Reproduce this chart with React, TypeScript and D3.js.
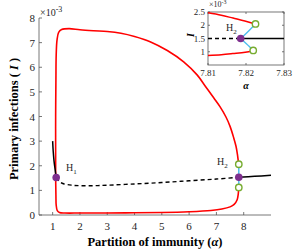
import * as d3 from 'd3';

// main panel: alpha vs I (x 1e-3)
const xTicks = [1, 2, 3, 4, 5, 6, 7, 8];
const yTicks = [0, 1, 2, 3, 4, 5, 6, 7, 8];

// stable periodic orbit (max / min), closed loop
const redCycle: [number, number][] = [
  [7.82, 1.12], [7.8, 0.85], [7.76, 0.62], [7.65, 0.43], [7.5, 0.33], [7.2, 0.24],
  [6.8, 0.18], [6.0, 0.13], [5.0, 0.1], [4.0, 0.09], [3.0, 0.08], [2.0, 0.08],
  [1.45, 0.08], [1.25, 0.1], [1.17, 0.18], [1.13, 0.4], [1.12, 0.8], [1.11, 1.5],
  [1.11, 2.5], [1.11, 4.0], [1.12, 5.5], [1.13, 6.5], [1.16, 7.1], [1.22, 7.42],
  [1.33, 7.53], [1.6, 7.57], [2.0, 7.52], [2.5, 7.48], [3.0, 7.45], [3.5, 7.38],
  [4.0, 7.25], [4.57, 7.04], [5.2, 6.68], [5.8, 6.22], [6.3, 5.68], [6.6, 5.22],
  [6.9, 4.76], [7.13, 4.4], [7.35, 3.98], [7.5, 3.6], [7.63, 3.15], [7.72, 2.78],
  [7.77, 2.46], [7.8, 2.2], [7.82, 2.06],
];
const stableLeft: [number, number][] = [[1.0, 3.0], [1.02, 2.6], [1.05, 2.2], [1.09, 1.85], [1.13, 1.52]];
const unstableEq: [number, number][] = [
  [1.13, 1.52], [1.25, 1.36], [1.4, 1.27], [1.7, 1.21], [2.0, 1.19], [2.5, 1.19],
  [3.0, 1.21], [4.0, 1.26], [5.0, 1.32], [6.0, 1.39], [7.0, 1.46], [7.82, 1.53],
];
const stableRight: [number, number][] = [[7.82, 1.53], [8.4, 1.57], [9.0, 1.61]];
const unstableCycle: [number, number][] = [[7.82, 2.06], [7.82, 1.53], [7.82, 1.12]];
const hopfPoints: [number, number][] = [[1.13, 1.52], [7.82, 1.53]];
const foldPoints: [number, number][] = [[7.82, 2.06], [7.82, 1.12]];

// inset around H2
const insetXTicks = [7.81, 7.82, 7.83];
const insetYTicks = [1, 1.5, 2, 2.5];
const insetRedUpper: [number, number][] = [[7.81, 2.47], [7.8135, 2.38], [7.8166, 2.27], [7.8197, 2.16], [7.8224, 2.05]];
const insetRedLower: [number, number][] = [[7.81, 0.86], [7.8135, 0.89], [7.8165, 0.93], [7.8198, 0.98], [7.8219, 1.05]];
const insetBlueUpper: [number, number][] = [[7.8186, 1.5], [7.8203, 1.73], [7.8225, 2.05]];
const insetBlueLower: [number, number][] = [[7.8186, 1.5], [7.8201, 1.3], [7.8219, 1.05]];
const insetDashed: [number, number][] = [[7.81, 1.5], [7.8186, 1.5]];
const insetSolid: [number, number][] = [[7.8186, 1.5], [7.83, 1.5]];
const insetHopf: [number, number] = [7.8186, 1.5];
const insetFolds: [number, number][] = [[7.8225, 2.05], [7.8219, 1.05]];

const RED = '#ff0000';
const BLUE = '#4dbeee';
const GREEN = '#77ac30';
const PURPLE = '#7e2f8e';
const AXIS = '#555';
const TXT = '#262626';
const FONT = '"Liberation Serif", "Times New Roman", serif';

export default function App() {
  const x = d3.scaleLinear().domain([0.5, 9]).range([39, 271]);
  const y = d3.scaleLinear().domain([0, 8]).range([215, 18]);
  const line = d3.line<[number, number]>().x(d => x(d[0])).y(d => y(d[1])).curve(d3.curveCatmullRom);

  const ix = d3.scaleLinear().domain([7.81, 7.83]).range([208, 284]);
  const iy = d3.scaleLinear().domain([0.5, 2.5]).range([65, 12]);
  const iline = d3.line<[number, number]>().x(d => ix(d[0])).y(d => iy(d[1])).curve(d3.curveCatmullRom);

  return (
    <svg width={300} height={250} style={{ position: 'absolute', left: 0, top: 0, background: '#fff' }} fontFamily={FONT}>
      {/* main axes */}
      <line x1={x(0.5)} x2={x(9)} y1={y(0)} y2={y(0)} stroke={AXIS} strokeWidth={0.8} />
      <line x1={x(0.5)} x2={x(0.5)} y1={y(0)} y2={y(8)} stroke={AXIS} strokeWidth={0.8} />
      {xTicks.map(t => (
        <g key={'xt' + t}>
          <line x1={x(t)} x2={x(t)} y1={y(0)} y2={y(0) - 3} stroke={AXIS} strokeWidth={0.8} />
          <text x={x(t)} y={230} fontSize={11} textAnchor="middle" fill={TXT}>{t}</text>
        </g>
      ))}
      {yTicks.map(t => (
        <g key={'yt' + t}>
          <line x1={x(0.5)} x2={x(0.5) + 3} y1={y(t)} y2={y(t)} stroke={AXIS} strokeWidth={0.8} />
          <text x={35} y={y(t) + 4} fontSize={11} textAnchor="end" fill={TXT}>{t}</text>
        </g>
      ))}
      <text x={40} y={16} fontSize={10} fill={TXT}>
        ×10<tspan dy={-4} fontSize={8}>-3</tspan>
      </text>
      <text x={155} y={246} fontSize={12.5} fontWeight="bold" textAnchor="middle" fill="#000">
        Partition of immunity (<tspan fontStyle="italic">α</tspan>)
      </text>
      <text transform="translate(18,119) rotate(-90)" fontSize={12.5} fontWeight="bold" textAnchor="middle" fill="#000">
        Primary infections ( <tspan fontStyle="italic">I</tspan> )
      </text>

      {/* main curves */}
      <path d={line(redCycle) ?? ''} fill="none" stroke={RED} strokeWidth={1.6} />
      <path d={line(unstableEq) ?? ''} fill="none" stroke="#000" strokeWidth={1.4} strokeDasharray="4,3" />
      <path d={line(stableLeft) ?? ''} fill="none" stroke="#000" strokeWidth={1.5} />
      <path d={line(stableRight) ?? ''} fill="none" stroke="#000" strokeWidth={1.5} />
      <path d={line(unstableCycle) ?? ''} fill="none" stroke={BLUE} strokeWidth={1.5} />
      {foldPoints.map((p, i) => (
        <circle key={'f' + i} cx={x(p[0])} cy={y(p[1])} r={3.2} fill="#fff" stroke={GREEN} strokeWidth={1.4} />
      ))}
      {hopfPoints.map((p, i) => (
        <circle key={'h' + i} cx={x(p[0])} cy={y(p[1])} r={3.8} fill={PURPLE} />
      ))}
      <text x={66} y={171} fontSize={10} fill={TXT}>H<tspan dy={3} fontSize={7}>1</tspan></text>
      <text x={217} y={165} fontSize={10} fill={TXT}>H<tspan dy={3} fontSize={7}>2</tspan></text>

      {/* inset */}
      <rect x={208} y={12} width={76} height={53} fill="#fff" stroke={AXIS} strokeWidth={0.8} />
      {insetXTicks.map(t => (
        <g key={'ixt' + t}>
          <line x1={ix(t)} x2={ix(t)} y1={65} y2={63} stroke={AXIS} strokeWidth={0.8} />
          <line x1={ix(t)} x2={ix(t)} y1={12} y2={14} stroke={AXIS} strokeWidth={0.8} />
          <text x={ix(t)} y={76} fontSize={9} textAnchor="middle" fill={TXT}>{t.toFixed(2)}</text>
        </g>
      ))}
      {insetYTicks.map(t => (
        <g key={'iyt' + t}>
          <line x1={208} x2={210} y1={iy(t)} y2={iy(t)} stroke={AXIS} strokeWidth={0.8} />
          <line x1={284} x2={282} y1={iy(t)} y2={iy(t)} stroke={AXIS} strokeWidth={0.8} />
          <text x={205} y={iy(t) + 3} fontSize={9} textAnchor="end" fill={TXT}>{t}</text>
        </g>
      ))}
      <text x={209} y={7} fontSize={8} fill={TXT}>
        ×10<tspan dy={-3} fontSize={6}>-3</tspan>
      </text>
      <text x={246} y={89} fontSize={10} fontWeight="bold" fontStyle="italic" textAnchor="middle" fill="#000">α</text>
      <text transform="translate(194,35) rotate(-90)" fontSize={10} fontWeight="bold" fontStyle="italic" textAnchor="middle" fill="#000">I</text>
      <path d={iline(insetRedUpper) ?? ''} fill="none" stroke={RED} strokeWidth={1.5} />
      <path d={iline(insetRedLower) ?? ''} fill="none" stroke={RED} strokeWidth={1.5} />
      <path d={iline(insetDashed) ?? ''} fill="none" stroke="#000" strokeWidth={1.4} strokeDasharray="4,3" />
      <path d={iline(insetSolid) ?? ''} fill="none" stroke="#000" strokeWidth={1.4} />
      <path d={iline(insetBlueUpper) ?? ''} fill="none" stroke={BLUE} strokeWidth={1.4} />
      <path d={iline(insetBlueLower) ?? ''} fill="none" stroke={BLUE} strokeWidth={1.4} />
      {insetFolds.map((p, i) => (
        <circle key={'if' + i} cx={ix(p[0])} cy={iy(p[1])} r={3.2} fill="#fff" stroke={GREEN} strokeWidth={1.4} />
      ))}
      <circle cx={ix(insetHopf[0])} cy={iy(insetHopf[1])} r={3.8} fill={PURPLE} />
      <text x={226} y={31} fontSize={10} fill={TXT}>H<tspan dy={3} fontSize={7}>2</tspan></text>
    </svg>
  );
}
